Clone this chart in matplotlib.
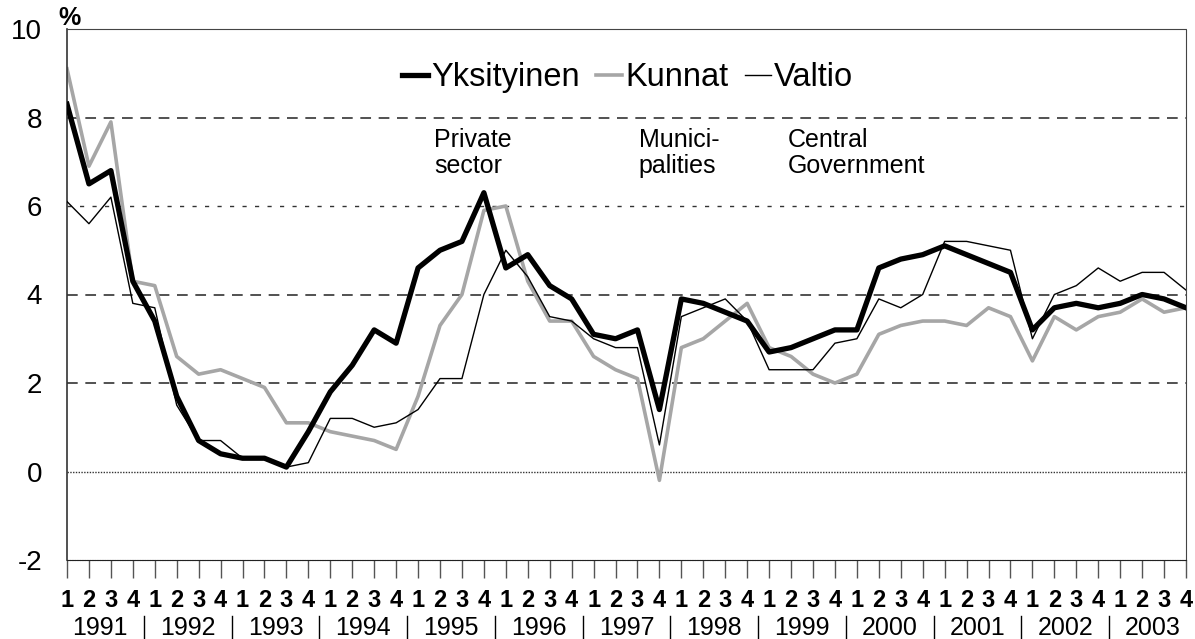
import matplotlib.pyplot as plt
import matplotlib.transforms as mtransforms
from matplotlib.lines import Line2D

# quarterly data 1991Q1 - 2003Q4
years = [str(y) for y in range(1991, 2004)]
quarters = ['1', '2', '3', '4']

yksityinen = [8.3, 6.5, 6.8, 4.3, 3.4, 1.7, 0.7, 0.4, 0.3, 0.3, 0.1, 0.9,
              1.8, 2.4, 3.2, 2.9, 4.6, 5.0, 5.2, 6.3, 4.6, 4.9, 4.2, 3.9,
              3.1, 3.0, 3.2, 1.4, 3.9, 3.8, 3.6, 3.4, 2.7, 2.8, 3.0, 3.2,
              3.2, 4.6, 4.8, 4.9, 5.1, 4.9, 4.7, 4.5, 3.2, 3.7, 3.8, 3.7,
              3.8, 4.0, 3.9, 3.7]
kunnat = [9.1, 6.9, 7.9, 4.3, 4.2, 2.6, 2.2, 2.3, 2.1, 1.9, 1.1, 1.1,
          0.9, 0.8, 0.7, 0.5, 1.7, 3.3, 4.0, 5.9, 6.0, 4.3, 3.4, 3.4,
          2.6, 2.3, 2.1, -0.2, 2.8, 3.0, 3.4, 3.8, 2.8, 2.6, 2.2, 2.0,
          2.2, 3.1, 3.3, 3.4, 3.4, 3.3, 3.7, 3.5, 2.5, 3.5, 3.2, 3.5,
          3.6, 3.9, 3.6, 3.7]
valtio = [6.1, 5.6, 6.2, 3.8, 3.7, 1.5, 0.7, 0.7, 0.3, 0.3, 0.1, 0.2,
          1.2, 1.2, 1.0, 1.1, 1.4, 2.1, 2.1, 4.0, 5.0, 4.4, 3.5, 3.4,
          3.0, 2.8, 2.8, 0.6, 3.5, 3.7, 3.9, 3.4, 2.3, 2.3, 2.3, 2.9,
          3.0, 3.9, 3.7, 4.0, 5.2, 5.2, 5.1, 5.0, 3.0, 4.0, 4.2, 4.6,
          4.3, 4.5, 4.5, 4.1]

x = list(range(len(yksityinen)))

plt.rcParams['font.family'] = ['Liberation Sans', 'DejaVu Sans']

fig = plt.figure(figsize=(11.95, 6.39), dpi=100)
ax = fig.add_axes([67 / 1195, 1 - 560 / 639, 1119 / 1195, 531 / 639])

ax.plot(x, valtio, color='black', lw=1.0, label='Valtio', zorder=3)
ax.plot(x, kunnat, color='#a6a6a6', lw=2.6, label='Kunnat', zorder=2)
ax.plot(x, yksityinen, color='black', lw=3.8, label='Yksityinen', zorder=4)

ax.set_xlim(0, len(x) - 1)
ax.set_ylim(-2, 10)
ax.set_yticks(range(-2, 11, 2))
ax.set_yticklabels([str(v) for v in range(-2, 11, 2)])

# gridlines
for yv in [2, 4, 8]:
    ax.axhline(yv, color='#222222', lw=1.1, ls=(0, (7, 5)), zorder=1)
ax.axhline(6, color='#333333', lw=1.0, ls=(0, (3, 6)), zorder=1)
ax.axhline(0, color='#333333', lw=1.0, ls=(0, (1, 1)), zorder=1)

for s in ['top', 'right']:
    ax.spines[s].set_linestyle((0, (1, 1)))
    ax.spines[s].set_color('#444444')
ax.spines['bottom'].set_linestyle((0, (1, 0.5)))
ax.spines['bottom'].set_color('#222222')
ax.spines['left'].set_color('#333333')
ax.spines['left'].set_linewidth(1.2)

ax.tick_params(axis='y', length=0, pad=18, labelsize=20)
ax.set_xticks(x)
ax.set_xticklabels(quarters * len(years), fontweight='bold')
ax.tick_params(axis='x', length=13, width=1, color='#555555', pad=8,
               labelsize=17)

# year labels and separators
trans = mtransforms.blended_transform_factory(ax.transData, ax.transAxes)
for i, yr in enumerate(years):
    ax.text(i * 4 + 1.5, -0.128, yr, transform=trans, ha='center',
            va='center', fontsize=18)
    if i > 0:
        ax.add_line(Line2D([i * 4 - 0.5, i * 4 - 0.5], [-0.105, -0.150],
                           transform=trans, color='black', lw=1,
                           clip_on=False))

ax.text(0.002, 0.998, '%', transform=ax.transAxes, ha='center', va='bottom',
        fontsize=18, fontweight='bold')

ax.text(16.74, 7.2, 'Private\nsector', ha='left', va='center',
        fontsize=18, linespacing=1.1)
ax.text(26.05, 7.2, 'Munici-\npalities', ha='left', va='center',
        fontsize=18, linespacing=1.1)
ax.text(32.85, 7.2, 'Central\nGovernment', ha='left', va='center',
        fontsize=18, linespacing=1.1)

handles, labels = ax.get_legend_handles_labels()
order = [2, 1, 0]
ax.legend([handles[i] for i in order], [labels[i] for i in order],
          loc='center', bbox_to_anchor=(0.501, 0.908), ncol=3,
          frameon=False, fontsize=23.5, handlelength=0.8, handletextpad=0.1,
          columnspacing=0.5, borderaxespad=0)

fig.savefig('out.png', dpi=100)
